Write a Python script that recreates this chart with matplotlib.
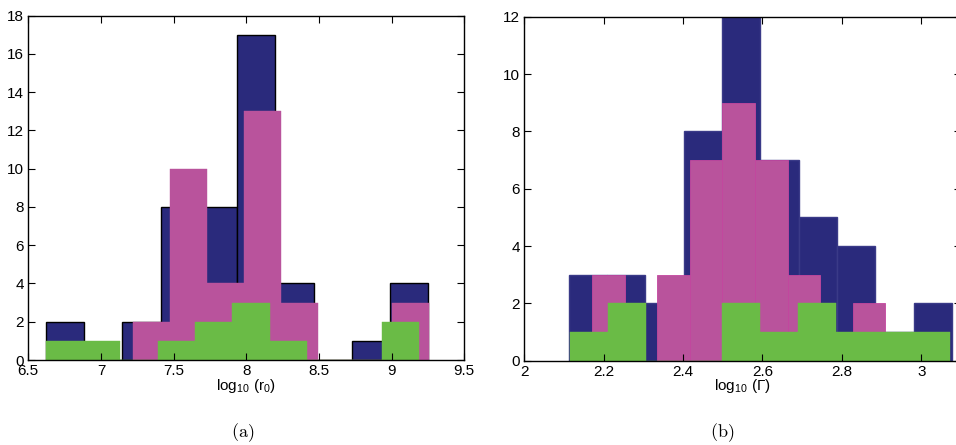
import numpy as np
import matplotlib.pyplot as plt

plt.rcParams['font.family'] = ['Liberation Sans', 'DejaVu Sans']
plt.rcParams['mathtext.fontset'] = 'custom'
plt.rcParams['mathtext.rm'] = 'Liberation Sans'
plt.rcParams['mathtext.it'] = 'Liberation Sans'

navy = '#2a2a7c'
pink = '#b9539c'
green = '#6abb46'

# panel (a): log10(r0) histograms, first bin edge, bin width, counts
r0_navy_start, r0_navy_width = 6.622, 0.263
r0_navy_counts = [2, 0, 2, 8, 8, 17, 4, 0, 1, 4]
r0_pink_start, r0_pink_width = 7.22, 0.255
r0_pink_counts = [2, 10, 4, 13, 3, 0, 0, 3]
r0_green_start, r0_green_width = 6.62, 0.257
r0_green_counts = [1, 1, 0, 1, 2, 3, 1, 0, 0, 2]

# panel (b): log10(Gamma) histograms
g_navy_start, g_navy_width = 2.112, 0.0965
g_navy_counts = [3, 3, 2, 8, 12, 7, 5, 4, 1, 2]
g_pink_start, g_pink_width = 2.1705, 0.0821
g_pink_counts = [3, 0, 3, 7, 9, 7, 3, 0, 2]
g_green_start, g_green_width = 2.115, 0.0958
g_green_counts = [1, 2, 0, 0, 2, 1, 2, 1, 1, 1]


def draw_hist(ax, start, width, counts, color, edge, lw):
    lefts = start + width * np.arange(len(counts))
    ax.bar(lefts, counts, width=width, align='edge', color=color,
           edgecolor=edge, linewidth=lw)


def style_axes(ax):
    ax.tick_params(direction='in', top=True, right=True, length=5,
                   width=0.8, labelsize=11, pad=3)
    for s in ax.spines.values():
        s.set_linewidth(1.0)


fig = plt.figure(figsize=(9.56, 4.45), dpi=100)

ax1 = fig.add_axes([0.0296, 0.191, 0.456, 0.774])
draw_hist(ax1, r0_navy_start, r0_navy_width, r0_navy_counts, navy, 'black', 1.0)
draw_hist(ax1, r0_pink_start, r0_pink_width, r0_pink_counts, pink, pink, 0.3)
draw_hist(ax1, r0_green_start, r0_green_width, r0_green_counts, green, green, 0.3)
ax1.set_xlim(6.5, 9.5)
ax1.set_ylim(0, 18)
ax1.set_xticks(np.arange(6.5, 9.51, 0.5))
ax1.set_xticklabels(['6.5', '7', '7.5', '8', '8.5', '9', '9.5'])
ax1.set_yticks(np.arange(0, 19, 2))
style_axes(ax1)
ax1.set_xlabel(r'log$_{10}$ (r$_0$)', fontsize=11, labelpad=-1)

ax2 = fig.add_axes([0.5484, 0.1894, 0.4568, 0.773])
draw_hist(ax2, g_navy_start, g_navy_width, g_navy_counts, navy, '#3a3a88', 1.0)
draw_hist(ax2, g_pink_start, g_pink_width, g_pink_counts, pink, '#c4479f', 0.6)
draw_hist(ax2, g_green_start, g_green_width, g_green_counts, green, green, 0.3)
ax2.set_xlim(2, 3.1)
ax2.set_ylim(0, 12)
ax2.set_xticks(np.arange(2, 3.01, 0.2))
ax2.set_xticklabels(['2', '2.2', '2.4', '2.6', '2.8', '3'])
ax2.set_yticks(np.arange(0, 13, 2))
style_axes(ax2)
ax2.set_xlabel(r'log$_{10}$ ($\Gamma$)', fontsize=11, labelpad=-1)

# panel captions
fig.text(0.254, 0.028, r'$\mathrm{(a)}$', math_fontfamily='cm', fontsize=13,
         ha='center', va='center')
fig.text(0.755, 0.028, r'$\mathrm{(b)}$', math_fontfamily='cm', fontsize=13,
         ha='center', va='center')

fig.savefig('out.png', dpi=100)
